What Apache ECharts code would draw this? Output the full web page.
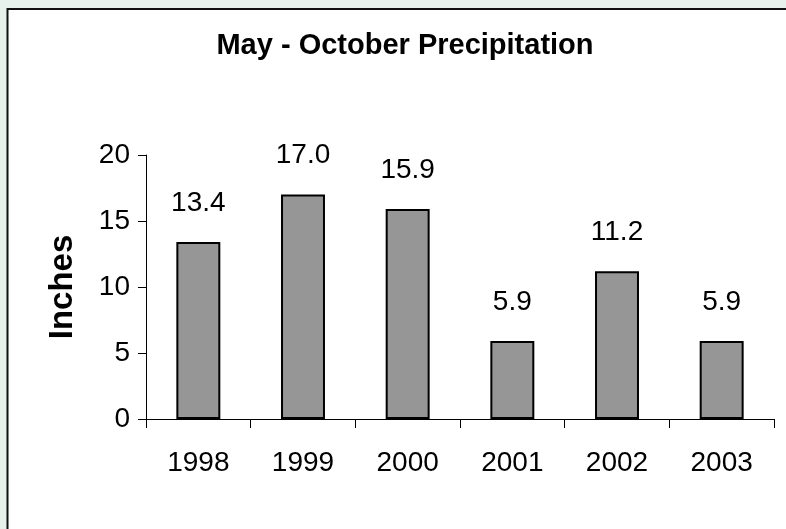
<!DOCTYPE html>
<html>
<head>
<meta charset="utf-8">
<script src="https://cdn.jsdelivr.net/npm/echarts@6/dist/echarts.min.js"></script>
<style>
  html, body { margin: 0; padding: 0; background: #e8f2ec; }
  #chart { width: 786px; height: 529px; }
</style>
</head>
<body>
<div id="chart"></div>
<script>
// May - October precipitation, inches
const years = ['1998', '1999', '2000', '2001', '2002', '2003'];
const precip = [13.4, 17.0, 15.9, 5.9, 11.2, 5.9];
const yTicks = [0, 5, 10, 15, 20];

const font = "'Liberation Sans', Arial, sans-serif";

const myChart = echarts.init(document.getElementById('chart'));
const option = {
  backgroundColor: '#e8f2ec',
  animation: false,
  graphic: [
    {
      type: 'rect',
      z: -10,
      shape: { x: 7.5, y: 9, width: 800, height: 600 },
      style: { fill: '#fff', stroke: '#111', lineWidth: 2 }
    },
    {
      type: 'text',
      x: 405,
      y: 46,
      style: {
        text: 'May - October Precipitation',
        font: 'bold 29px ' + font,
        fill: '#000',
        textAlign: 'center',
        textVerticalAlign: 'middle'
      }
    }
  ],
  grid: {
    left: 146,
    right: 12,
    top: 155,
    bottom: 110,
    containLabel: false
  },
  xAxis: {
    type: 'category',
    data: years,
    boundaryGap: true,
    axisLine: { lineStyle: { color: '#000', width: 1 } },
    axisTick: { show: true, length: 9, alignWithLabel: false, lineStyle: { color: '#000' } },
    axisLabel: { color: '#000', fontSize: 28, fontFamily: font, margin: 30 },
    splitLine: { show: false }
  },
  yAxis: {
    type: 'value',
    min: yTicks[0],
    max: yTicks[yTicks.length - 1],
    interval: 5,
    name: 'Inches',
    nameLocation: 'middle',
    nameGap: 67,
    nameRotate: 90,
    nameTextStyle: { color: '#000', fontSize: 33, fontWeight: 'bold', fontFamily: font },
    axisLine: { show: true, lineStyle: { color: '#000', width: 1 } },
    axisTick: { show: true, length: 8, lineStyle: { color: '#000' } },
    axisLabel: { color: '#000', fontSize: 28, fontFamily: font, margin: 16 },
    splitLine: { show: false }
  },
  series: [
    {
      type: 'bar',
      data: precip,
      barWidth: '42%',
      itemStyle: { color: '#969696', borderColor: '#000', borderWidth: 2 },
      label: {
        show: true,
        position: 'top',
        distance: 25,
        color: '#000',
        fontSize: 28,
        fontFamily: font,
        formatter: function (p) { return p.value.toFixed(1); }
      }
    }
  ]
};
myChart.setOption(option);
</script>
</body>
</html>
